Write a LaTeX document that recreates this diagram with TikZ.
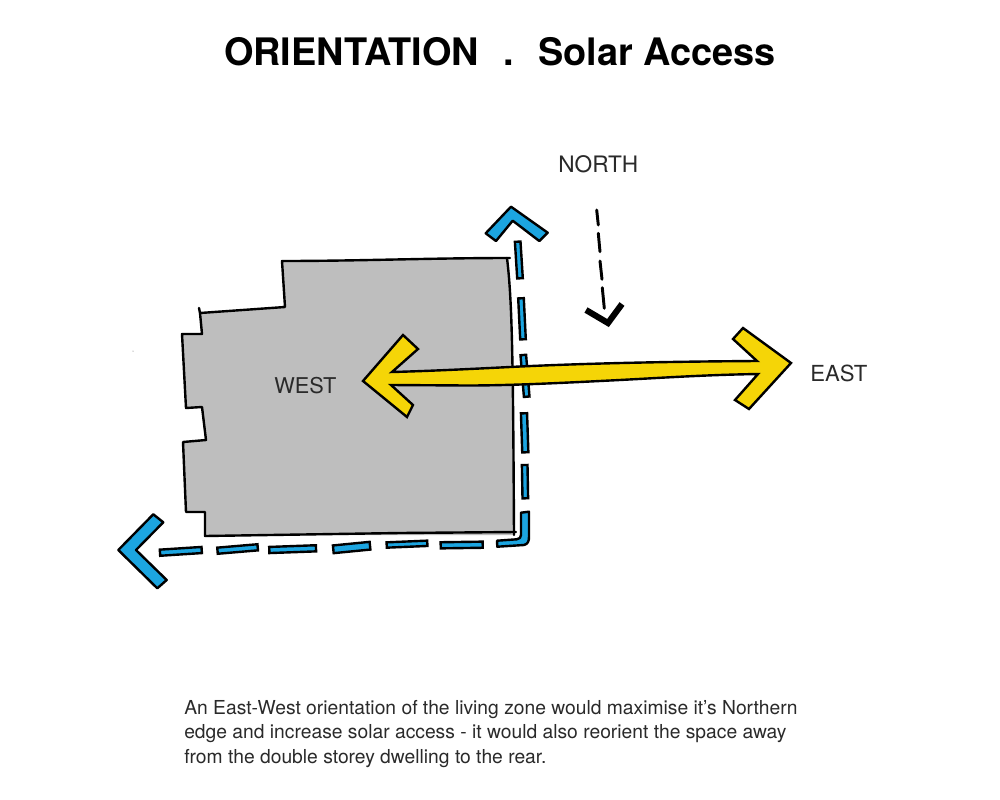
\documentclass[tikz,border=0pt]{standalone}
\usepackage{fontspec}
\setmainfont{TeX Gyre Heros}
\usepackage{xcolor}
\usetikzlibrary{calc}
\definecolor{planGray}{HTML}{BEBEBE}
\definecolor{sunYellow}{HTML}{F5D507}
\definecolor{edgeBlue}{HTML}{1CA5E0}
\definecolor{labelInk}{HTML}{2A2A2A}
\tikzset{
  sketch/.style={draw=black,line width=1.8,line join=round,line cap=round},
  sunarrow/.style={sketch,fill=sunYellow},
  bluearrow/.style={sketch,fill=edgeBlue},
  northdash/.style={draw=black,line width=2.2,line cap=round},
  label/.style={font=\fontsize{17}{17}\selectfont,text=labelInk,inner sep=0pt,anchor=base west},
}

\begin{document}
\begin{tikzpicture}[x=.75pt,y=-.75pt]

  \useasboundingbox (0,0) rectangle (1000,800);
  \fill[white] (0,0) rectangle (1000,800);

  % title
  \node[font=\bfseries\fontsize{28.4}{28.4}\selectfont,inner sep=0pt,anchor=base] (title) at (500,65)
    {ORIENTATION\hspace{.65em}.\hspace{.65em}Solar Access};

  % plan of the house
  \fill[planGray] (282,261) -- (507,258) .. controls (512,300) and (513,350) .. (514,535)
    -- (205,535) -- (205,512) -- (186,512) -- (183,442) -- (206,440) -- (202,407)
    -- (186,408) -- (182,334) -- (202,334) -- (200,313) -- (285,307) -- cycle;
  \draw[sketch]
    (199,308) -- (200,313) -- (285,307) -- (282,261) .. controls (360,261) and (430,258) .. (510,258);
  \draw[sketch] (507,258) .. controls (512,300) and (513,350) .. (514,535);
  \draw[sketch]
    (516,532) -- (400,533) -- (205,536) -- (205,512) -- (186,512) -- (183,442) -- (206,440)
    -- (202,407) -- (186,408) -- (182,334) -- (202,334) -- (200,313);
  \fill[black!60] (133,351) circle (.5);

  % blue dashes along the two edges
  \foreach \xa/\ya/\xb/\yb/\w in {
    160/552.7/201.7/550/2.3, 217.5/550.7/257.7/547.3/2.3, 269.3/550/316/548.3/2.3,
    333.3/549.3/370/545.7/2.9, 386.7/545/427.3/543.3/2, 440.7/545.3/482.7/544.7/2.3,
    524/413.3/525.3/452.3/2.3, 524.7/465/525.3/498.3/2.1,
    517.7/241.7/520/278.3/2.1, 521/298.3/523/339.3/2.1, 523.3/355/526.7/396.7/2.1} {
    \draw[bluearrow,line join=miter]
      ($(\xa,\ya)!\w pt!90:(\xb,\yb)$) -- ($(\xb,\yb)!\w pt!-90:(\xa,\ya)$)
      -- ($(\xb,\yb)!\w pt!90:(\xa,\ya)$) -- ($(\xa,\ya)!\w pt!-90:(\xb,\yb)$) -- cycle;
  }
  % corner dash
  \draw[bluearrow]
    (497,540.7) -- (516.7,539.3) .. controls (519.5,539) and (521,537.5) .. (521,535) -- (521,512.7)
    -- (529,511.7) -- (529,536.7) .. controls (529,541) and (528,544) .. (524,545) -- (497.3,546.7) -- cycle;
  % blue arrow heads
  \draw[bluearrow] (511,206.7) -- (547.7,232.7) -- (539.3,241) -- (512.7,220.7)
    -- (496,241) -- (485.7,233.3) -- cycle;
  \draw[bluearrow] (118.3,550) -- (153.3,514.3) -- (163.3,522.3) -- (136,550)
    -- (166.7,580) -- (157.3,588.3) -- cycle;

  % north arrow
  \draw[northdash] (596.7,210) -- (598.3,225);
  \draw[northdash] (598.3,233.3) -- (600,251.7);
  \draw[northdash] (600,261) -- (602,279.3);
  \draw[northdash] (602.3,287.7) -- (604.3,308.3);
  \draw[draw=black,line width=4.6,line join=miter] (586,310) -- (608,323) -- (622,304);

  % yellow arrow
  \draw[sunarrow,line join=miter] (363,381) -- (403,335) -- (418,349) -- (392,372)
    .. controls (430,371) and (470,369) .. (510,367)
    .. controls (590,363) and (680,361.5) .. (757,361)
    -- (733,339) -- (743,328) -- (791,363) -- (749,409) -- (735,400) -- (758,374)
    .. controls (700,375) and (660,378) .. (610,380.5)
    .. controls (560,383) and (510,385.5) .. (467,385.5)
    -- (391,385) -- (413,405) -- (407,417) -- cycle;

  % labels
  \node[label] (north) at (558,172) {NORTH};
  \node[label,font=\fontsize{16.3}{17}\selectfont] (west) at (274,393) {WEST};
  \node[label,font=\fontsize{16.6}{17}\selectfont] (east) at (810,381) {EAST};

  % caption
  \node[font=\fontsize{14.45}{18.5}\selectfont,text=labelInk,align=left,inner sep=0pt,anchor=base west] (caption) at (184,763.5)
    {An East-West orientation of the living zone would maximise it’s Northern\\
     edge and increase solar access - it would also reorient the space away\\
     from the double storey dwelling to the rear.};

\end{tikzpicture}
\end{document}
